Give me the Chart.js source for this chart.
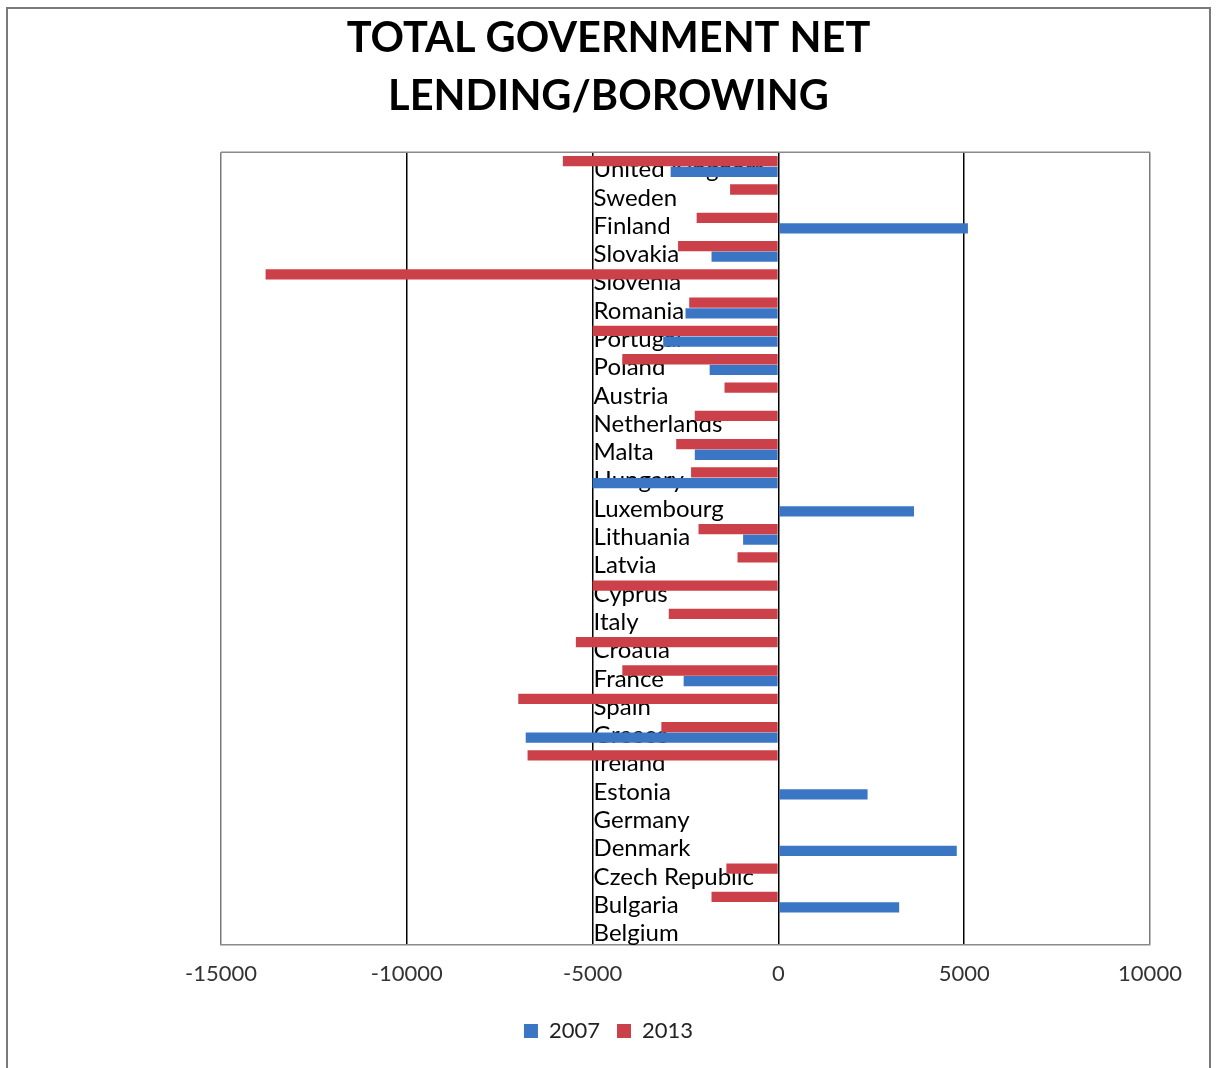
<!DOCTYPE html>
<html>
<head>
<meta charset="utf-8">
<script src="https://cdn.jsdelivr.net/npm/chart.js@4.4.1/dist/chart.umd.min.js"></script>
<style>
    html, body { margin: 0; padding: 0; background: #fff; }
    #wrap { position: relative; width: 1217px; height: 1068px; }
</style>
</head>
<body>
<div id="wrap"><canvas id="lendingChart"></canvas></div>
<script>
const countries = ['United Kingdom', 'Sweden', 'Finland', 'Slovakia', 'Slovenia', 'Romania', 'Portugal',
    'Poland', 'Austria', 'Netherlands', 'Malta', 'Hungary', 'Luxembourg', 'Lithuania', 'Latvia', 'Cyprus',
    'Italy', 'Croatia', 'France', 'Spain', 'Greece', 'Ireland', 'Estonia', 'Germany', 'Denmark',
    'Czech Republic', 'Bulgaria', 'Belgium'];
const net2007 = [-2900, null, 5100, -1800, null, -2500, -3100, -1850, null, null, -2250, -5000, 3650, -950,
    null, null, null, null, -2550, null, -6800, null, 2400, null, 4800, null, 3250, null];
const net2013 = [-5800, -1300, -2200, -2700, -13800, -2400, -5000, -4200, -1450, -2250, -2750, -2350, null,
    -2150, -1100, -5000, -2950, -5450, -4200, -7000, -3150, -6750, null, null, null, -1400, -1800, null];
const xTicks = [-15000, -10000, -5000, 0, 5000, 10000];
const titleLines = ['TOTAL GOVERNMENT NET', 'LENDING/BOROWING'];

document.addEventListener('DOMContentLoaded', () => {
    // country names sit just right of the -5000 line, under the bars
    const countryLabels = {
        id: 'countryLabels',
        beforeDatasetsDraw(chart) {
            const ctx = chart.ctx;
            const x = chart.scales.x.getPixelForValue(-5000);
            const yScale = chart.scales.y;
            ctx.save();
            ctx.font = '24px Lato';
            ctx.fillStyle = '#000';
            ctx.textBaseline = 'middle';
            countries.forEach((name, i) => {
                ctx.fillText(name, x + 1, yScale.getPixelForValue(i) + 3);
            });
            ctx.restore();
        }
    };

    // outer frame + top edge of the plot area
    const frames = {
        id: 'frames',
        afterDraw(chart) {
            const ctx = chart.ctx;
            const area = chart.chartArea;
            ctx.save();
            ctx.strokeStyle = '#8a8a8a';
            ctx.lineWidth = 1.5;
            ctx.beginPath();
            ctx.moveTo(area.left, area.top);
            ctx.lineTo(area.right, area.top);
            ctx.stroke();
            ctx.lineWidth = 2;
            ctx.strokeStyle = '#7a7a7a';
            ctx.strokeRect(7, 8, 1203, 1100);
            ctx.restore();
        }
    };

    // empty side axes just reserve room so title/legend stay centred on the page
    const spacer = (w) => ({
        display: true,
        ticks: { display: false },
        grid: { display: false },
        border: { display: false },
        afterFit: (scale) => { scale.width = w; }
    });

    const ctx = document.getElementById('lendingChart').getContext('2d');

    const config = {
        type: 'bar',
        data: {
            labels: countries,
            datasets: [{
                label: '2013',
                data: net2013,
                backgroundColor: '#cc4049',
                borderWidth: 0
            }, {
                label: '2007',
                data: net2007,
                backgroundColor: '#3b76c5',
                borderWidth: 0
            }]
        },
        options: {
            indexAxis: 'y',
            responsive: true,
            maintainAspectRatio: false,
            animation: false,
            layout: {
                padding: { left: 7, right: 7, top: 0, bottom: 16 }
            },
            datasets: {
                bar: { categoryPercentage: 0.75, barPercentage: 0.97 }
            },
            scales: {
                x: {
                    min: -15000,
                    max: 10000,
                    afterBuildTicks: (scale) => {
                        scale.ticks = xTicks.map(v => ({ value: v }));
                    },
                    ticks: {
                        font: { family: 'Lato', size: 22 },
                        color: '#333',
                        padding: 16,
                        callback: (v) => String(v)
                    },
                    grid: {
                        color: (c) => (c.tick && (c.tick.value === -15000 || c.tick.value === 10000)) ? '#7a7a7a' : '#000',
                        lineWidth: 1.5,
                        drawTicks: false
                    },
                    border: { display: true, color: '#8a8a8a', width: 1.5 }
                },
                y: Object.assign({ position: 'left' }, spacer(214)),
                yRight: Object.assign({ type: 'category', position: 'right' }, spacer(60))
            },
            plugins: {
                title: {
                    display: true,
                    text: titleLines,
                    color: '#000',
                    font: { family: 'Lato', size: 41.5, weight: 'bold', lineHeight: 1.39 },
                    padding: { top: 10, bottom: 27 }
                },
                legend: {
                    position: 'bottom',
                    labels: {
                        font: { family: 'Lato', size: 22 },
                        color: '#222',
                        boxWidth: 14,
                        boxHeight: 14,
                        padding: 17,
                        sort: (a, b) => b.datasetIndex - a.datasetIndex
                    }
                },
                tooltip: { enabled: false }
            }
        },
        plugins: [countryLabels, frames]
    };

    document.fonts.load('24px Lato').then(() => document.fonts.load('bold 41px Lato')).then(() => {
        new Chart(ctx, config);
    });
});
</script>
</body>
</html>
